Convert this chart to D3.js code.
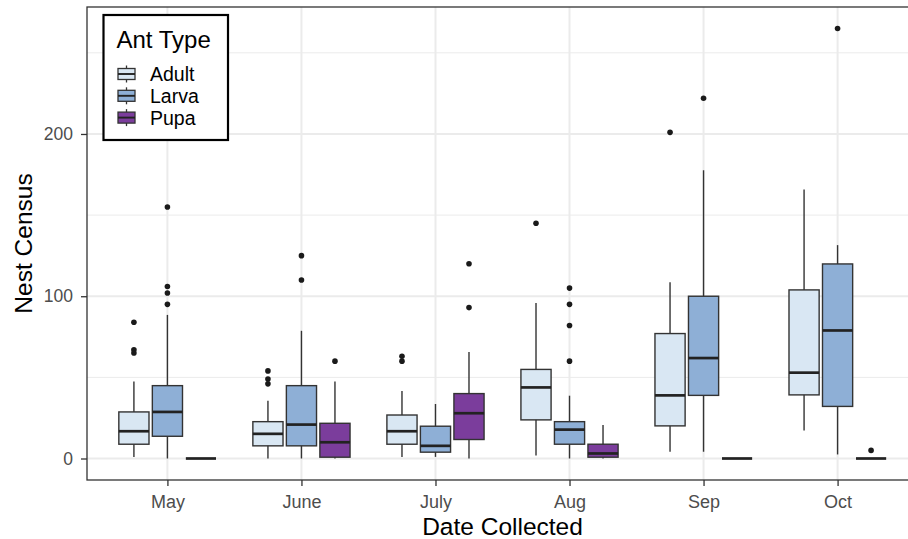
<!DOCTYPE html>
<html>
<head>
<meta charset="utf-8">
<script src="https://cdn.jsdelivr.net/npm/d3@7"></script>
<style>
  html, body { margin: 0; padding: 0; background: #fff; }
  svg { display: block; font-family: "Liberation Sans", Arial, sans-serif; }
</style>
</head>
<body>
<svg id="chart" width="908" height="539"></svg>
<script>
// ========= Data
const months = ["May", "June", "July", "Aug", "Sep", "Oct"];
const antTypes = ["Adult", "Larva", "Pupa"];
const typeColors = ["#d9e7f3", "#8eafd6", "#7b3d9c"];

// [lower whisker, q1, median, q3, upper whisker] per month
const adultStats = [
  [1, 8.8, 16.8, 28.7, 47.5],
  [0, 7.8, 15.2, 22.7, 35.6],
  [1, 8.8, 16.8, 26.8, 41.6],
  [1.8, 23.8, 43.8, 54.9, 95.9],
  [4.1, 20.1, 38.9, 77, 108.6],
  [17.2, 39.2, 52.9, 103.9, 165.8]
];
const larvaStats = [
  [0, 13.7, 28.7, 44.9, 88.5],
  [0, 7.8, 20.9, 44.9, 78.7],
  [1, 3.9, 7.8, 19.9, 33.6],
  [0, 8.8, 17.8, 22.7, 38.7],
  [4.1, 38.9, 61.9, 100, 177.6],
  [2.5, 32.1, 78.9, 119.9, 131.5]
];
const pupaStats = [
  [0, 0, 0, 0, 0],
  [0, 0.8, 10, 21.7, 47.5],
  [0, 11.7, 27.9, 40, 65.6],
  [0, 0.8, 3.1, 8.8, 20.7],
  [0, 0, 0, 0, 0],
  [0, 0, 0, 0, 0]
];

// outliers per month
const adultOutliers = [[84, 67, 65], [54, 49, 46], [63, 60], [145], [201], []];
const larvaOutliers = [[155, 106, 102, 95], [125, 110], [], [105, 95, 82, 60], [222], [265]];
const pupaOutliers = [[], [60], [120, 93], [], [], [5]];

const statsByType = [adultStats, larvaStats, pupaStats];
const outliersByType = [adultOutliers, larvaOutliers, pupaOutliers];

const yTicks = [0, 100, 200];
const yMinor = [50, 150, 250];

// ========= Layout
const svg = d3.select("#chart");
const panel = { left: 87, top: 7, right: 918, bottom: 480 };

const x = d3.scalePoint()
  .domain(months)
  .range([panel.left, panel.right])
  .padding(0.6);

const y = d3.scaleLinear()
  .domain([-13.25, 278.25])
  .range([panel.bottom, panel.top]);

const step = x.step();
const dodge = step * 0.25;
const boxW = dodge * 0.9;

// ========= Grid
const grid = svg.append("g");
grid.selectAll("line.minor")
  .data(yMinor)
  .join("line")
  .attr("x1", panel.left).attr("x2", panel.right)
  .attr("y1", d => y(d)).attr("y2", d => y(d))
  .attr("stroke", "#ebebeb").attr("stroke-width", 1);
grid.selectAll("line.major")
  .data(yTicks)
  .join("line")
  .attr("class", "major")
  .attr("x1", panel.left).attr("x2", panel.right)
  .attr("y1", d => y(d)).attr("y2", d => y(d))
  .attr("stroke", "#ebebeb").attr("stroke-width", 2);
grid.selectAll("line.vmajor")
  .data(months)
  .join("line")
  .attr("class", "vmajor")
  .attr("x1", d => x(d)).attr("x2", d => x(d))
  .attr("y1", panel.top).attr("y2", panel.bottom)
  .attr("stroke", "#ebebeb").attr("stroke-width", 2);

// ========= Boxes
const boxes = svg.append("g");
antTypes.forEach((type, ti) => {
  const g = boxes.append("g").attr("class", "type-" + type);
  const rows = statsByType[ti].map((s, mi) => ({
    cx: x(months[mi]) + (ti - 1) * dodge,
    s: s,
    out: outliersByType[ti][mi]
  }));

  // whiskers
  g.selectAll("line.whisk")
    .data(rows)
    .join("line")
    .attr("x1", d => d.cx).attr("x2", d => d.cx)
    .attr("y1", d => y(d.s[0])).attr("y2", d => y(d.s[4]))
    .attr("stroke", "#333").attr("stroke-width", 1.4);

  // box
  g.selectAll("rect")
    .data(rows)
    .join("rect")
    .attr("x", d => d.cx - boxW / 2)
    .attr("width", boxW)
    .attr("y", d => y(d.s[3]))
    .attr("height", d => y(d.s[1]) - y(d.s[3]))
    .attr("fill", typeColors[ti])
    .attr("stroke", "#333").attr("stroke-width", 1.4);

  // median
  g.selectAll("line.med")
    .data(rows)
    .join("line")
    .attr("class", "med")
    .attr("x1", d => d.cx - boxW / 2).attr("x2", d => d.cx + boxW / 2)
    .attr("y1", d => y(d.s[2])).attr("y2", d => y(d.s[2]))
    .attr("stroke", "#222").attr("stroke-width", 2.7);

  // outliers
  g.selectAll("circle")
    .data(rows.flatMap(r => r.out.map(v => ({ cx: r.cx, v }))))
    .join("circle")
    .attr("cx", d => d.cx).attr("cy", d => y(d.v))
    .attr("r", 2.8)
    .attr("fill", "#1a1a1a");
});

// ========= Panel border
svg.append("rect")
  .attr("x", panel.left).attr("y", panel.top)
  .attr("width", panel.right - panel.left).attr("height", panel.bottom - panel.top)
  .attr("fill", "none").attr("stroke", "#333").attr("stroke-width", 1.3);

// ========= Axes
const yAxis = svg.append("g")
  .attr("transform", `translate(${panel.left},0)`)
  .call(d3.axisLeft(y).tickValues(yTicks).tickSize(6).tickPadding(8));
yAxis.select(".domain").remove();
yAxis.selectAll(".tick line").attr("stroke", "#333").attr("stroke-width", 1.3);
yAxis.selectAll(".tick text").attr("fill", "#4d4d4d").style("font-size", "17.5px");

const xAxis = svg.append("g")
  .attr("transform", `translate(0,${panel.bottom})`)
  .call(d3.axisBottom(x).tickSize(6).tickPadding(9));
xAxis.select(".domain").remove();
xAxis.selectAll(".tick line").attr("stroke", "#333").attr("stroke-width", 1.3);
xAxis.selectAll(".tick text").attr("fill", "#4d4d4d").style("font-size", "18px");

// axis titles
svg.append("text")
  .attr("x", (panel.left + panel.right) / 2)
  .attr("y", 535)
  .attr("text-anchor", "middle")
  .style("font-size", "24.5px")
  .attr("fill", "#000")
  .text("Date Collected");

svg.append("text")
  .attr("transform", `translate(31.5,${(panel.top + panel.bottom) / 2}) rotate(-90)`)
  .attr("text-anchor", "middle")
  .style("font-size", "24.5px")
  .attr("fill", "#000")
  .text("Nest Census");

// ========= Legend
const legend = svg.append("g");
legend.append("rect")
  .attr("x", 103.5).attr("y", 15)
  .attr("width", 124.5).attr("height", 125)
  .attr("fill", "#fff")
  .attr("stroke", "#000").attr("stroke-width", 2.2);
legend.append("text")
  .attr("x", 116.5).attr("y", 48)
  .style("font-size", "24px")
  .attr("fill", "#000")
  .text("Ant Type");

const items = legend.selectAll("g.item")
  .data(antTypes)
  .join("g")
  .attr("class", "item")
  .attr("transform", (d, i) => `translate(0,${74 + i * 21.8})`);
items.append("line")
  .attr("x1", 126.5).attr("x2", 126.5)
  .attr("y1", -8.5).attr("y2", 8.5)
  .attr("stroke", "#333").attr("stroke-width", 1.3);
items.append("rect")
  .attr("x", 118).attr("y", -5.5)
  .attr("width", 17).attr("height", 11)
  .attr("fill", (d, i) => typeColors[i])
  .attr("stroke", "#333").attr("stroke-width", 1.3);
items.append("line")
  .attr("x1", 118).attr("x2", 135)
  .attr("y1", 0).attr("y2", 0)
  .attr("stroke", "#222").attr("stroke-width", 1.9);
items.append("text")
  .attr("x", 150).attr("y", 0)
  .attr("dy", "0.36em")
  .style("font-size", "19.5px")
  .attr("fill", "#000")
  .text(d => d);
</script>
</body>
</html>
